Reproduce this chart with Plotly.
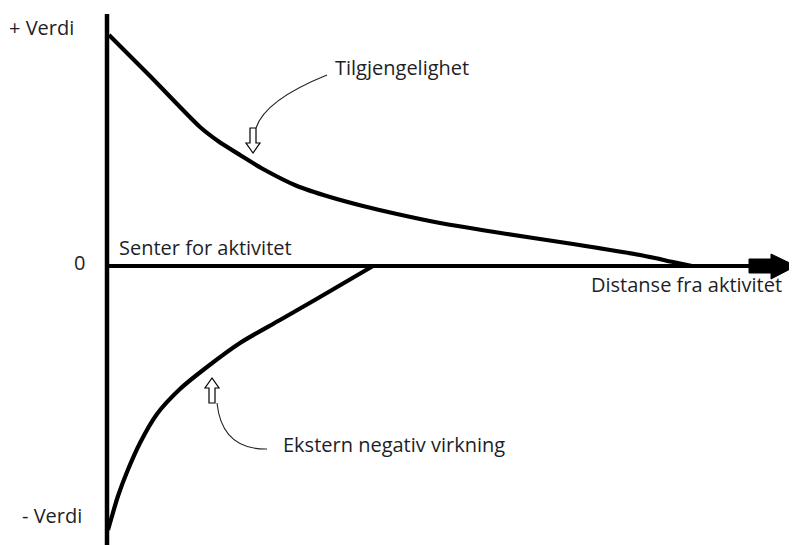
import plotly.graph_objects as go

# ---- data (x = distance, y = value; 0 = activity level) ----
tilgj_x = [109, 150, 200, 218, 240, 263, 297, 330, 363, 397, 440, 507, 573, 640, 673, 692]
tilgj_y = [231, 190, 139, 125, 111, 97, 80, 69, 60, 52, 43, 32, 22, 11, 4, 0]

ekstern_x = [108, 112, 118, 127, 140, 157, 180, 207, 240, 280, 320, 373]
ekstern_y = [-264, -250, -230, -206, -177, -148, -123, -101, -77, -54, -31, 0]

axis_x0 = 107
axis_x_end = 796
axis_y_top = 252
axis_y_bottom = -290

y_tick_labels = ["+ Verdi", "0", "- Verdi"]
y_tick_vals = [239, 4, -249]
y_tick_xpos = [41, 79, 52]

# the page body has an 8px margin: the figure is sized to fit the rest of the window
W, H = 789, 537
X_RANGE = [8, 797]
Y_RANGE = [-279, 258]

FONT = "Open Sans"
FS = 20
TXT = "#1e1e28"

fig = go.Figure()

fig.add_trace(go.Scatter(x=tilgj_x, y=tilgj_y, mode="lines",
                         line=dict(color="black", width=4.2, shape="spline", smoothing=0.7),
                         hoverinfo="skip", showlegend=False))
fig.add_trace(go.Scatter(x=ekstern_x, y=ekstern_y, mode="lines",
                         line=dict(color="black", width=4.2, shape="spline", smoothing=0.8),
                         hoverinfo="skip", showlegend=False))

shapes = []
# vertical axis
shapes.append(dict(type="line", xref="x", yref="y", x0=axis_x0, x1=axis_x0,
                   y0=axis_y_bottom, y1=axis_y_top, line=dict(color="black", width=4.5)))
# horizontal axis shaft
shapes.append(dict(type="line", xref="x", yref="y", x0=axis_x0, x1=axis_x_end - 44,
                   y0=0, y1=0, line=dict(color="black", width=4)))
# fat arrow head
ax = axis_x_end
path = (f"M {ax-47},7 L {ax-25},7 L {ax-25},12 L {ax},0 L {ax-25},-13 "
        f"L {ax-25},-7 L {ax-47},-7 Z")
shapes.append(dict(type="path", xref="x", yref="y", path=path,
                   fillcolor="black", line=dict(color="black", width=1)))


def hollow_arrow(tx, ty, direction):
    # direction = -1 points down, +1 points up
    d = direction
    hw, sw = 7, 3
    head, shaft = 10, 15
    pts = [(tx, ty),
           (tx - hw, ty - d * head),
           (tx - sw, ty - d * head),
           (tx - sw, ty - d * (head + shaft)),
           (tx + sw, ty - d * (head + shaft)),
           (tx + sw, ty - d * head),
           (tx + hw, ty - d * head)]
    p = "M " + " L ".join(f"{x},{y}" for x, y in pts) + " Z"
    return dict(type="path", xref="x", yref="y", path=p,
                fillcolor="white", line=dict(color="black", width=1.2))


shapes.append(hollow_arrow(253, 113, -1))
shapes.append(hollow_arrow(212, -112, 1))

# connector curves
shapes.append(dict(type="path", xref="x", yref="y",
                   path="M 327,191 Q 265,166 256,138",
                   line=dict(color="#222", width=1.1)))
shapes.append(dict(type="path", xref="x", yref="y",
                   path="M 217,-137 Q 222,-184 267,-183",
                   line=dict(color="#222", width=1.1)))

fig.update_layout(shapes=shapes)

ann = []


def label(text, x, y, anchor="left"):
    ann.append(dict(text=text, x=x, y=y, xref="x", yref="y", showarrow=False,
                    xanchor=anchor, yanchor="middle",
                    font=dict(family=FONT, size=FS, color=TXT)))


label("Tilgjengelighet", 333, 199)
label("Senter for aktivitet", 117, 19)
label("Distanse fra aktivitet", 589, -18)
label("Ekstern negativ virkning", 281, -178)
for t, v, xp in zip(y_tick_labels, y_tick_vals, y_tick_xpos):
    label(t, xp, v, anchor="center")

fig.update_layout(annotations=ann)

fig.update_layout(
    width=W, height=H, autosize=False,
    margin=dict(l=0, r=0, t=0, b=0),
    paper_bgcolor="white", plot_bgcolor="white",
    xaxis=dict(range=X_RANGE, visible=False, fixedrange=True),
    yaxis=dict(range=Y_RANGE, visible=False, fixedrange=True),
    showlegend=False,
)

fig.write_html("out.html")
